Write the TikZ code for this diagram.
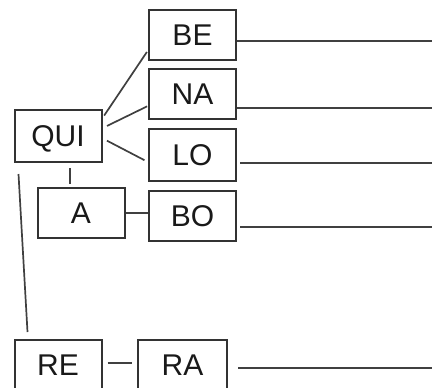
\documentclass[tikz,border=0pt]{standalone}
\usepackage{fontspec}
\setmainfont{Liberation Sans}
\begin{document}
\begin{tikzpicture}[x=1pt,y=-1pt,
    box/.style={draw=black!80, line width=2pt, minimum width=87pt,
      minimum height=50pt, inner sep=0pt, text height=21.5pt, text depth=0pt,
      font=\fontsize{30}{30}\selectfont, text=black!90},
    link/.style={draw=black!75, line width=1.7pt}]
      \useasboundingbox (0,0) rectangle (432,388);
      \clip (0,0) rectangle (432,388);
      \draw
        (192.5,35) node[box] (be){BE}
        (192.5,94) node[box] (na){NA}
        (192.5,155) node[box, minimum height=52pt] (lo){LO}
        (58,136) node[box, minimum height=52pt] (qui){QUI}
        (81,213) node[box] (a){A}
        (192.5,216) node[box] (bo){BO}
        (58,365) node[box] (re){RE}
        (182.5,365) node[box, minimum width=89pt] (ra){RA};
      \coordinate (be-end) at (432,41);
      \coordinate (na-end) at (432,108);
      \coordinate (lo-end) at (432,163);
      \coordinate (bo-end) at (432,227);
      \coordinate (ra-end) at (432,368);
      \begin{scope}[link]
        \draw[shorten <=3pt, shorten >=2pt] (qui.22) to (be.199);
        \draw[shorten <=5pt, shorten >=1pt] (qui.10) to (na.195);
        \draw[shorten <=5pt, shorten >=4pt] (qui.-3) to (lo.189);
        \draw ([xshift=12pt,yshift=-5pt]qui.south) to ([xshift=-11pt,yshift=3pt]a.north);
        \draw ([xshift=5pt,yshift=-11pt]qui.south west) to ([xshift=14pt,yshift=7pt]re.north west);
        \draw (a.east) to (a.east -| bo.west);
        \draw[shorten <=5pt, shorten >=5pt] ([yshift=2pt]re.east) to ([yshift=2pt]re.east -| ra.west);
        \draw (be.east |- be-end) to (be-end);
        \draw (na.east |- na-end) to (na-end);
        \draw[shorten <=3pt] (lo.east |- lo-end) to (lo-end);
        \draw[shorten <=3pt] (bo.east |- bo-end) to (bo-end);
        \draw[shorten <=10pt] (ra.east |- ra-end) to (ra-end);
      \end{scope}
\end{tikzpicture}
\end{document}
